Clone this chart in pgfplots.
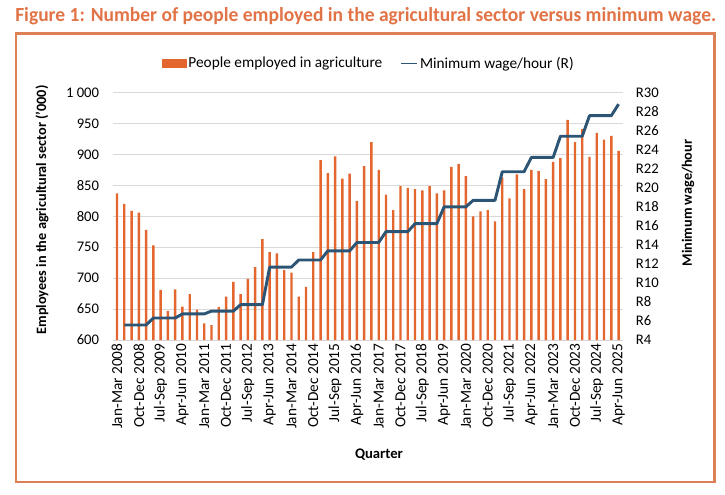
\documentclass[border=0pt]{standalone}
\usepackage{pgfplots}
\pgfplotsset{compat=1.18}
\usepackage{pgfplotstable}
\usepackage{fontspec}
\setmainfont{Carlito}

\definecolor{barorange}{RGB}{226,102,45}
\definecolor{titleorange}{RGB}{225,115,70}
\definecolor{frameorange}{RGB}{222,128,85}
\definecolor{wageblue}{RGB}{44,84,116}
\definecolor{gridgray}{RGB}{217,217,217}

% Quarterly employment in agriculture ('000), Jan-Mar 2008 = 1
\pgfplotstableread{
q emp
1 837
2 820
3 809
4 806
5 778
6 753
7 681
8 647
9 682
10 654
11 674
12 649
13 627
14 624
15 653
16 670
17 694
18 674
19 699
20 718
21 763
22 742
23 740
24 713
25 709
26 670
27 686
28 742
29 891
30 870
31 897
32 861
33 869
34 825
35 881
36 920
37 875
38 835
39 810
40 849
41 846
42 844
43 842
44 849
45 837
46 842
47 880
48 885
49 865
50 800
51 808
52 810
53 792
54 863
55 829
56 868
57 844
58 875
59 873
60 860
61 888
62 894
63 956
64 920
65 941
66 896
67 935
68 924
69 930
70 906
}\emptable

% Minimum wage per hour (R)
\pgfplotstableread{
q wage
2 5.58
3 5.58
4 5.58
5 5.58
6 6.31
7 6.31
8 6.31
9 6.31
10 6.74
11 6.74
12 6.74
13 6.74
14 7.04
15 7.04
16 7.04
17 7.04
18 7.71
19 7.71
20 7.71
21 7.71
22 11.66
23 11.66
24 11.66
25 11.66
26 12.41
27 12.41
28 12.41
29 12.41
30 13.37
31 13.37
32 13.37
33 13.37
34 14.25
35 14.25
36 14.25
37 14.25
38 15.39
39 15.39
40 15.39
41 15.39
42 16.23
43 16.23
44 16.23
45 16.23
46 18.00
47 18.00
48 18.00
49 18.00
50 18.68
51 18.68
52 18.68
53 18.68
54 21.69
55 21.69
56 21.69
57 21.69
58 23.19
59 23.19
60 23.19
61 23.19
62 25.42
63 25.42
64 25.42
65 25.42
66 27.58
67 27.58
68 27.58
69 27.58
70 28.79
}\wagetable

\pgfplotsset{
  common/.style={
    at={(84.5pt,-255pt)}, anchor=south west,
    scale only axis, width=382.7pt, height=185.5pt,
    xmin=0.4, xmax=70.6,
    major tick length=0pt, minor tick length=0pt,
    axis line style={draw=none},
    tick label style={font=\fontsize{11}{13}\selectfont},
    clip=true,
  }
}

\begin{document}
\begin{tikzpicture}
\path[use as bounding box] (0pt,0pt) rectangle (543.75pt,-371.25pt);

\node[anchor=base west, inner sep=0pt, text=titleorange,
      font=\fontsize{15}{18}\selectfont\bfseries]
  at (11.25pt,-15.9pt)
  {\scalebox{0.975}[1]{Figure 1: Number of people employed in the agricultural sector versus minimum wage.}};

\draw[frameorange, line width=1.8pt] (11.8pt,-25.2pt) rectangle (536pt,-361.5pt);

% employment bars, left axis
\begin{axis}[common,
  ymin=600, ymax=1000,
  ytick={600,650,...,1000},
  yticklabels={600,650,700,750,800,850,900,950,1 000},
  yticklabel style={inner sep=0pt},
  yticklabel shift=10pt,
  ymajorgrids, grid style={gridgray, line width=0.7pt},
  xtick={1,4,...,70},
  xticklabels={Jan-Mar 2008, Oct-Dec 2008, Jul-Sep 2009, Apr-Jun 2010,
    Jan-Mar 2011, Oct-Dec 2011, Jul-Sep 2012, Apr-Jun 2013,
    Jan-Mar 2014, Oct-Dec 2014, Jul-Sep 2015, Apr-Jun 2016,
    Jan-Mar 2017, Oct-Dec 2017, Jul-Sep 2018, Apr-Jun 2019,
    Jan-Mar 2020, Oct-Dec 2020, Jul-Sep 2021, Apr-Jun 2022,
    Jan-Mar 2023, Oct-Dec 2023, Jul-Sep 2024, Apr-Jun 2025},
  xticklabel style={rotate=90, anchor=east, inner sep=0pt,
    font=\fontsize{11.5}{13}\selectfont},
  xticklabel shift=2.5pt,
]
\addplot[ybar, bar width=1.8pt, fill=barorange, draw=none] table[x=q, y=emp] {\emptable};
\end{axis}

% minimum wage line, right axis
\begin{axis}[common,
  axis x line=none,
  axis y line*=right,
  ymin=4, ymax=30,
  ytick={4,6,...,30},
  yticklabels={R4,R6,R8,R10,R12,R14,R16,R18,R20,R22,R24,R26,R28,R30},
  yticklabel style={inner sep=0pt, anchor=west},
  yticklabel shift=9.5pt,
  legend style={at={(0.502,1.118)}, anchor=center, draw=none, fill=none,
    font=\fontsize{11.5}{13}\selectfont, legend columns=2,
    nodes={inner xsep=1.5pt},
    /tikz/every even column/.append style={column sep=12pt}},
  legend cell align=left,
]
\addlegendimage{legend image code/.code={\fill[barorange] (0pt,-2.8pt) rectangle (18pt,2.8pt);}}
\addlegendentry{People employed in agriculture}
\addplot[wageblue, line width=2.2pt, line join=round,
  legend image code/.code={\draw[wageblue, line width=1.3pt] (0pt,0pt) -- (12pt,0pt);}]
  table[x=q, y=wage] {\wagetable};
\addlegendentry{Minimum wage/hour (R)}
\end{axis}

\node[rotate=90, font=\fontsize{10.7}{12}\selectfont\bfseries] at (31.5pt,-157.5pt)
  {Employees in the agricultural sector ('000)};
\node[rotate=90, font=\fontsize{10.7}{12}\selectfont\bfseries] at (516pt,-152.25pt)
  {Minimum wage/hour};
\node[font=\fontsize{11}{13}\selectfont\bfseries] at (284.25pt,-341.25pt) {Quarter};
\end{tikzpicture}
\end{document}
